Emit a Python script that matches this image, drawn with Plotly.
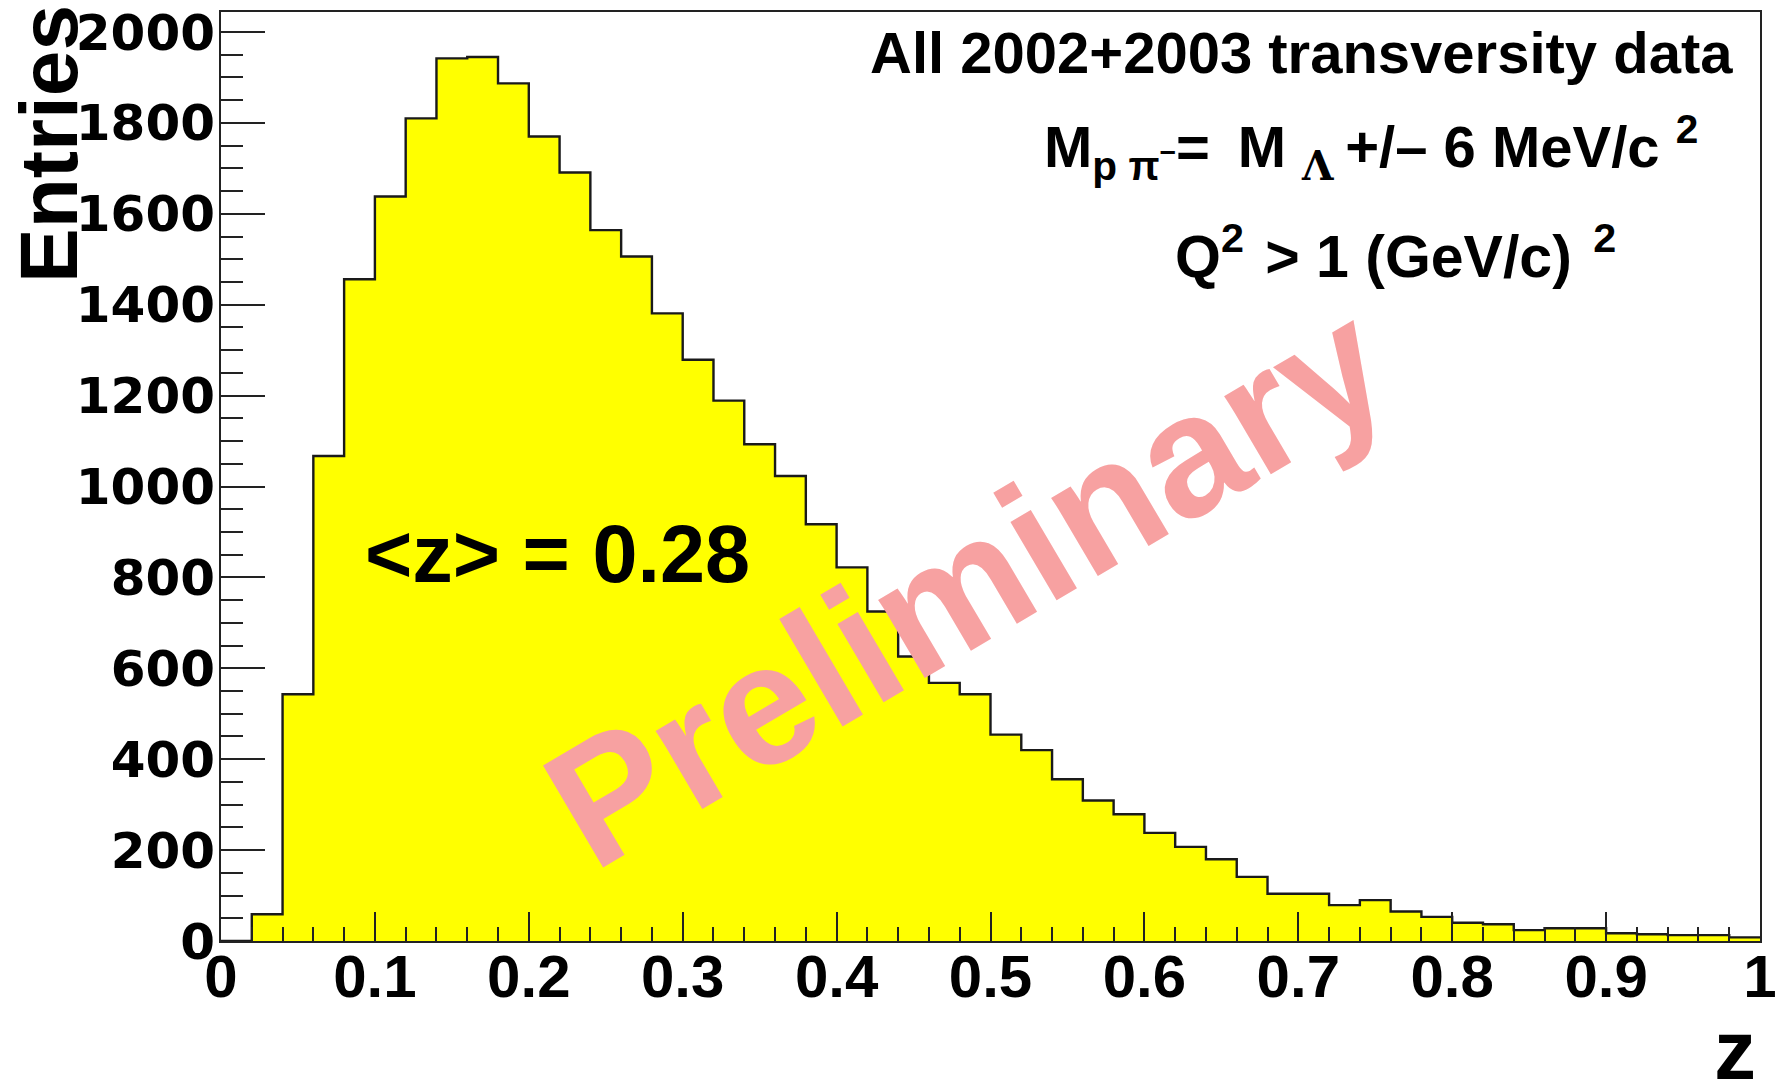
import plotly.graph_objects as go

# z distribution of Lambda candidates, 50 bins of width 0.02 on [0, 1]
bin_low = [round(0.02 * i, 2) for i in range(50)]
entries = [
    0, 59, 543, 1067, 1456, 1638, 1810, 1942, 1945, 1887,
    1770, 1691, 1564, 1506, 1381, 1279, 1189, 1093, 1023, 917,
    822, 725, 626, 568, 543, 454, 420, 356, 309, 279,
    238, 207, 180, 141, 104, 104, 79, 90, 65, 53,
    40, 37, 24, 28, 28, 17, 15, 13, 13, 8,
]
bin_width = 0.02

x_ticks = [0, 0.1, 0.2, 0.3, 0.4, 0.5, 0.6, 0.7, 0.8, 0.9, 1]
x_tick_text = ["0", "0.1", "0.2", "0.3", "0.4", "0.5", "0.6", "0.7", "0.8", "0.9", "1"]
y_ticks = [0, 200, 400, 600, 800, 1000, 1200, 1400, 1600, 1800, 2000]

W, H = 1776, 1087
L, R, T, B = 221, 16, 12, 146
pw, ph = W - L - R, H - T - B


def px(xp):
    return (xp - L) / pw


def py(yp):
    return (H - B - yp) / ph


# step outline: left edges plus the closing right edge
step_x = bin_low + [bin_low[-1] + bin_width]
step_y = entries + [entries[-1]]

fig = go.Figure()
fig.add_trace(go.Scatter(
    x=step_x, y=step_y, mode="lines", line_shape="hv",
    line=dict(color="#1a1a1a", width=2.4),
    fill="tozeroy", fillcolor="#FFFF00", hoverinfo="skip", showlegend=False,
))

bold = "Liberation Sans"
fig.update_layout(
    width=W, height=H, margin=dict(l=L, r=R, t=T, b=B, autoexpand=False),
    paper_bgcolor="white", plot_bgcolor="white", showlegend=False,
    xaxis=dict(
        range=[0, 1], tickvals=x_ticks, ticktext=x_tick_text,
        ticks="inside", ticklen=29, tickwidth=2, tickcolor="#222",
        minor=dict(dtick=0.02, ticks="inside", ticklen=14, tickwidth=2, tickcolor="#222"),
        showline=True, linecolor="#222", linewidth=2, mirror=True,
        showgrid=False, zeroline=False, automargin=False,
        tickfont=dict(family=bold, size=60, color="black", weight="bold"),
        ticklabelstandoff=-18, ticklabeloverflow="allow",
    ),
    yaxis=dict(
        range=[0, 2044], tickvals=y_ticks,
        ticks="inside", ticklen=44, tickwidth=2, tickcolor="#222",
        minor=dict(dtick=50, ticks="inside", ticklen=22, tickwidth=2, tickcolor="#222"),
        showline=True, linecolor="#222", linewidth=2, mirror=True,
        showgrid=False, zeroline=False, automargin=False,
        tickfont=dict(family="DejaVu Sans", size=50, color="black", weight="bold"),
        ticklabelstandoff=-6, ticklabeloverflow="allow",
    ),
)

thin = "\u2009"
hair = "\u200a"
ann = []
ann.append(dict(text="Entries", x=px(48), y=py(144), textangle=-90,
                font=dict(family=bold, size=82, color="black", weight="bold")))
ann.append(dict(text="z", x=px(1735), y=py(1050),
                font=dict(family=bold, size=84, color="black", weight="bold")))
ann.append(dict(text="&lt;z&gt; = 0.28", x=px(363), y=py(554), xanchor="left",
                font=dict(family=bold, size=81, color="black", weight="bold")))
ann.append(dict(text="All 2002+2003 transversity data", x=px(868), y=py(52), xanchor="left",
                font=dict(family=bold, size=58, color="black", weight="bold")))
ann.append(dict(
    text="M<sub>p π<sup>−</sup></sub>=" + thin + " M <sub><span style=\"font-family:'DejaVu Serif'\">Λ</span></sub>"
         + thin + "+/– 6 MeV/c <sup>2</sup>",
    x=px(1042), y=py(148), xanchor="left",
    font=dict(family=bold, size=58, color="black", weight="bold")))
ann.append(dict(text="Q<sup>2</sup>" + hair + " &gt; 1 (GeV/c) " + hair + "<sup>2</sup>",
                x=px(1173), y=py(252), xanchor="left",
                font=dict(family=bold, size=59, color="black", weight="bold")))
ann.append(dict(text="Preliminary", x=px(966), y=py(584), textangle=-30.5,
                font=dict(family=bold, size=172, color="#F7A1A1", weight="bold")))

for a in ann:
    a.update(xref="paper", yref="paper", showarrow=False)
    a.setdefault("xanchor", "center")
    a.setdefault("yanchor", "middle")
fig.update_layout(annotations=ann)

fig.write_html("out.html")
